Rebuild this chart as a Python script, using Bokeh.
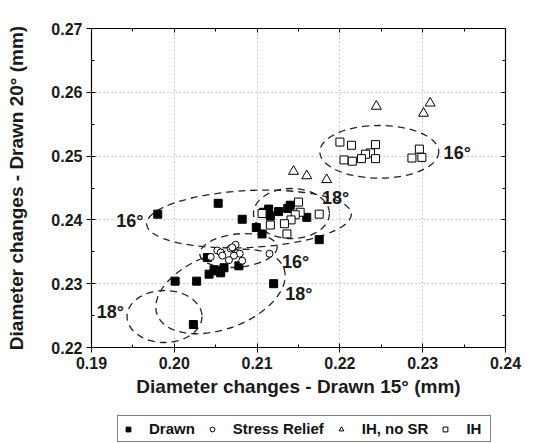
from bokeh.plotting import figure
from bokeh.layouts import column
from bokeh.models import (Range1d, LinearAxis, Legend, LegendItem, SingleIntervalTicker,
                          NumeralTickFormatter, CustomJSTickFormatter)
from bokeh.core.properties import value
from bokeh.embed import file_html
from bokeh.resources import INLINE

# ---- data ----
drawn_x = [0.1980, 0.2053, 0.2082, 0.2099, 0.2106, 0.2114, 0.2116, 0.2126, 0.2140, 0.2160,
           0.2175, 0.2040, 0.2042, 0.2048, 0.2056, 0.2060, 0.2078, 0.2001, 0.2027, 0.2120,
           0.2023, 0.2108, 0.2137, 0.2052]
drawn_y = [0.2409, 0.2426, 0.2401, 0.2388, 0.2378, 0.2417, 0.2406, 0.2413, 0.2423, 0.2404,
           0.2369, 0.2341, 0.2315, 0.2322, 0.2317, 0.2325, 0.2328, 0.2304, 0.2304, 0.2300,
           0.2236, 0.2412, 0.2418, 0.2320]

sr_x = [0.2044, 0.2052, 0.2056, 0.2058, 0.2068, 0.2074, 0.2076, 0.2079, 0.2072, 0.2066,
        0.2082, 0.2115, 0.2070]
sr_y = [0.2342, 0.2352, 0.2349, 0.2344, 0.2355, 0.2361, 0.2348, 0.2347, 0.2344, 0.2337,
        0.2336, 0.2347, 0.2357]

ihnosr_x = [0.2144, 0.2160, 0.2184, 0.2244, 0.2301, 0.2309]
ihnosr_y = [0.2476, 0.2469, 0.2463, 0.2578, 0.2567, 0.2583]

ih_x = [0.2200, 0.2214, 0.2243, 0.2237, 0.2231, 0.2243, 0.2205, 0.2215, 0.2226, 0.2296,
        0.2287, 0.2299,
        0.2106, 0.2116, 0.2150, 0.2152, 0.2146, 0.2141, 0.2133, 0.2136, 0.2175]
ih_y = [0.2522, 0.2517, 0.2518, 0.2505, 0.2503, 0.2496, 0.2494, 0.2492, 0.2496, 0.2511,
        0.2497, 0.2498,
        0.2410, 0.2392, 0.2428, 0.2412, 0.2408, 0.2400, 0.2394, 0.2378, 0.2409]

# dashed grouping ellipses (annotations)
ell_x = [0.22476, 0.20902, 0.21415, 0.20775, 0.20558, 0.19882]
ell_y = [0.25067, 0.24014, 0.24100, 0.23520, 0.22878, 0.22486]
ell_w = [0.01437, 0.02476, 0.00918, 0.00940, 0.01630, 0.00906]
ell_h = [0.00826, 0.00893, 0.00784, 0.00520, 0.01180, 0.00815]
ell_a = [0.0, 0.05, 0.0, 0.10, 0.35, 0.0]

ann_text = ["16°", "18°", "16°", "16°", "18°", "18°"]
ann_x = [0.23417, 0.21947, 0.19463, 0.21464, 0.21504, 0.19229]
ann_y = [0.25046, 0.24346, 0.23980, 0.23337, 0.22831, 0.22553]

x_label = "Diameter changes - Drawn 15° (mm)"
y_label = "Diameter changes - Drawn 20° (mm)"
series_names = ["Drawn", "Stress Relief", "IH, no SR", "IH"]

FONT = "Liberation Sans"

p = figure(width=538, height=411, x_range=Range1d(0.19, 0.24), y_range=Range1d(0.22, 0.27),
           output_backend="svg", toolbar_location=None,
           min_border_left=91, min_border_right=33, min_border_top=28, min_border_bottom=64)
p.outline_line_color = "black"
p.outline_line_width = 1.2
p.background_fill_color = "white"
p.border_fill_color = "white"

xt = SingleIntervalTicker(interval=0.01, num_minor_ticks=2)
yt = SingleIntervalTicker(interval=0.01, num_minor_ticks=2)
p.xaxis.ticker = xt
p.yaxis.ticker = yt
for ax in (p.xaxis[0], p.yaxis[0]):
    ax.formatter = NumeralTickFormatter(format="0.00")
    ax.major_label_text_font = FONT
    ax.major_label_text_font_style = "bold"
    ax.major_label_text_font_size = "16px"
    ax.major_label_text_color = "#1a1a1a"
    ax.axis_label_text_font = FONT
    ax.axis_label_text_font_style = "bold"
    ax.axis_label_text_font_size = "19px"
    ax.axis_label_text_color = "#1a1a1a"
    ax.major_tick_out = 5
    ax.major_tick_in = 4
    ax.minor_tick_out = 0
    ax.minor_tick_in = 3
    ax.axis_line_color = "black"
    ax.major_tick_line_color = "black"
    ax.minor_tick_line_color = "black"
p.xaxis.axis_label = x_label
p.yaxis.axis_label = y_label
p.xaxis.major_label_standoff = 4
p.xaxis.axis_label_standoff = 4
p.yaxis.major_label_standoff = 4
p.yaxis.axis_label_standoff = 21

for loc in ("right", "above"):
    ax = LinearAxis(ticker=SingleIntervalTicker(interval=0.01, num_minor_ticks=2),
                    formatter=CustomJSTickFormatter(code="return ''"),
                    major_tick_out=0, major_tick_in=4,
                    minor_tick_out=0, minor_tick_in=3, major_label_standoff=0)
    p.add_layout(ax, loc)

p.xgrid.ticker = xt
p.ygrid.ticker = yt
p.grid.grid_line_color = "#c8c8c8"
p.grid.grid_line_dash = "2 2"
p.grid.grid_line_width = 1

# ellipses
p.ellipse(x=ell_x, y=ell_y, width=ell_w, height=ell_h, angle=ell_a,
          fill_alpha=0, line_color="#222222", line_width=1.3, line_dash="7 5")

r_drawn = p.scatter(drawn_x, drawn_y, marker="square", size=8, fill_color="black",
                    line_color="black")
r_sr = p.scatter(sr_x, sr_y, marker="circle", size=7, fill_color="white",
                 line_color="black", line_width=1)
r_tri = p.scatter(ihnosr_x, ihnosr_y, marker="triangle", size=10, fill_color="white",
                  line_color="black", line_width=1)
r_ih = p.scatter(ih_x, ih_y, marker="square", size=8, fill_color="white",
                 line_color="black", line_width=1)

p.text(x=ann_x, y=ann_y, text=ann_text, text_font=value(FONT), text_font_style="bold",
       text_font_size="18px", text_align="center", text_baseline="middle",
       text_color="#1a1a1a")

# ---- legend strip below the plot (series lie outside its ranges; only the legend shows) ----
lf = figure(width=538, height=32, x_range=Range1d(10, 11), y_range=Range1d(10, 11),
            output_backend="svg", toolbar_location=None,
            x_axis_location=None, y_axis_location=None,
            min_border_left=91, min_border_right=33, min_border_top=0, min_border_bottom=0)
lf.outline_line_color = None
lf.grid.visible = False
l_drawn = lf.scatter(drawn_x, drawn_y, marker="square", size=7, fill_color="black",
                     line_color="black")
l_sr = lf.scatter(sr_x, sr_y, marker="circle", size=7, fill_color="white",
                  line_color="black")
l_tri = lf.scatter(ihnosr_x, ihnosr_y, marker="triangle", size=8, fill_color="white",
                   line_color="black")
l_ih = lf.scatter(ih_x, ih_y, marker="square", size=7, fill_color="white",
                  line_color="black")

legend = Legend(items=[LegendItem(label=series_names[0], renderers=[l_drawn]),
                       LegendItem(label=series_names[1], renderers=[l_sr]),
                       LegendItem(label=series_names[2], renderers=[l_tri]),
                       LegendItem(label=series_names[3], renderers=[l_ih])],
                orientation="horizontal", location=(26, 1),
                border_line_color="black", border_line_width=1,
                background_fill_color="white", background_fill_alpha=1,
                label_text_font=FONT, label_text_font_style="bold",
                label_text_font_size="15px", label_text_color="#111111",
                glyph_width=12, glyph_height=14, label_standoff=15, spacing=11,
                padding=4, margin=0, label_height=15)
lf.add_layout(legend, "center")

layout = column(p, lf, spacing=0)
open("out.html", "w").write(file_html(layout, INLINE))
